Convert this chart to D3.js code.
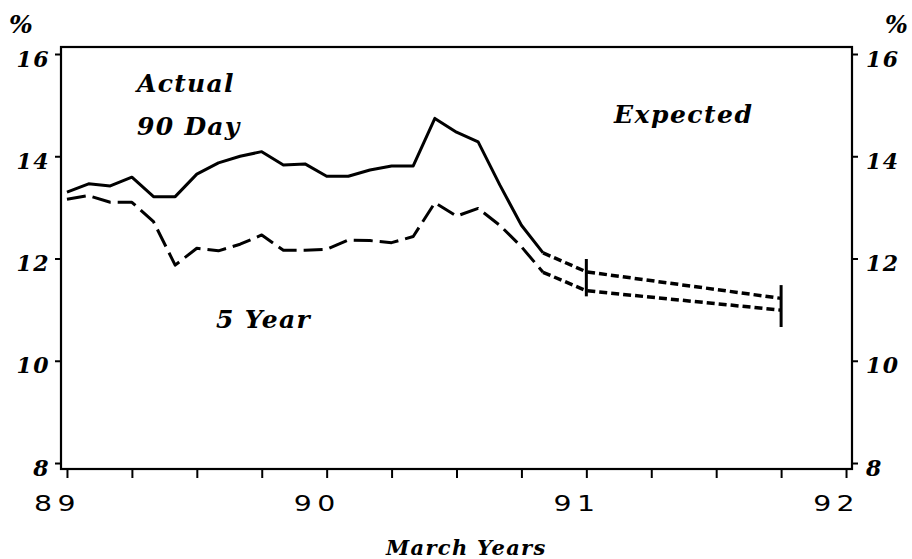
<!DOCTYPE html>
<html>
<head>
<meta charset="utf-8">
<script src="https://cdn.jsdelivr.net/npm/d3@7"></script>
<style>
  body { margin: 0; background: #fff; }
  svg { display: block; }
  .lab { font-family: "DejaVu Serif", serif; font-weight: bold; font-style: italic; fill: #000; }
  .xt { font-family: "DejaVu Sans", sans-serif; font-size: 21px; fill: #000; letter-spacing: 4px; }
</style>
</head>
<body>
<svg id="chart" width="912" height="559"></svg>
<script>
// monthly observations, March 1989 onward (year + month/12)
const actualMonths = d3.range(23).map(i => 89 + i / 12);
const actual90 = [13.30, 13.46, 13.42, 13.59, 13.21, 13.21, 13.65, 13.87, 14.00, 14.09, 13.83, 13.85,
                  13.61, 13.61, 13.73, 13.81, 13.81, 14.74, 14.47, 14.28, 13.44, 12.65, 12.11];
const actual5 = [13.16, 13.23, 13.10, 13.10, 12.72, 11.87, 12.20, 12.15, 12.28, 12.46, 12.16, 12.16,
                 12.18, 12.36, 12.35, 12.31, 12.43, 13.09, 12.83, 12.98, 12.65, 12.23, 11.73];

// expected path starts at last actual month
const expectedDates = [89 + 22 / 12, 91.0, 91.75];
const expected90 = [12.11, 11.74, 11.22];
const expected5 = [11.73, 11.37, 10.99];

// vertical range bars on the expectations
const barDates = [91.0, 91.75];
const barLow = [11.26, 10.66];
const barHigh = [11.99, 11.48];

const yTicks = [8, 10, 12, 14, 16];
const xTickLabels = [89, 90, 91, 92];
const xTicks = d3.range(89, 92.01, 0.25);

const svg = d3.select("#chart");
const mLeft = 61, mRight = 852, mTop = 47, mBottom = 469;

const x = d3.scaleLinear().domain([88.977, 92.023]).range([mLeft, mRight]);
const y = d3.scaleLinear().domain([7.883, 16.137]).range([mBottom, mTop]);

// frame
svg.append("rect")
    .attr("x", mLeft).attr("y", mTop)
    .attr("width", mRight - mLeft).attr("height", mBottom - mTop)
    .attr("fill", "none").attr("stroke", "#000").attr("stroke-width", 2.2);

// left axis
const yl = svg.append("g").attr("transform", "translate(" + mLeft + ",0)")
    .call(d3.axisLeft(y).tickValues(yTicks).tickSize(6).tickPadding(8).tickFormat(d3.format("d")));
// right axis
const yr = svg.append("g").attr("transform", "translate(" + mRight + ",0)")
    .call(d3.axisRight(y).tickValues(yTicks).tickSize(6).tickPadding(8).tickFormat(d3.format("d")));
[yl, yr].forEach(g => {
    g.select(".domain").remove();
    g.selectAll(".tick line").attr("stroke", "#000").attr("stroke-width", 2);
    g.selectAll(".tick text")
        .attr("class", "lab")
        .attr("dy", "0.55em")
        .style("font-size", "22px")
        .style("letter-spacing", "1.5px");
});
yl.selectAll(".tick text").attr("dx", 3);

// bottom axis
const xa = svg.append("g").attr("transform", "translate(0," + mBottom + ")")
    .call(d3.axisBottom(x).tickValues(xTicks).tickSize(9).tickFormat(""));
xa.select(".domain").remove();
xa.selectAll(".tick line").attr("stroke", "#000").attr("stroke-width", 2);

// wide upright year labels, right edge a little past the tick
svg.append("g").selectAll("text")
    .data(xTickLabels)
    .enter().append("text")
    .attr("class", "xt")
    .attr("transform", d => "translate(" + (x(d) + 14) + ",511) scale(1.35,1)")
    .attr("text-anchor", "end")
    .text(d => d);

// lines
const line = d3.line().x(d => x(d[0])).y(d => y(d[1]));

svg.append("path")
    .datum(d3.zip(actualMonths, actual90))
    .attr("d", line)
    .attr("fill", "none").attr("stroke", "#000").attr("stroke-width", 3)
    .attr("stroke-linejoin", "round");

svg.append("path")
    .datum(d3.zip(actualMonths, actual5))
    .attr("d", line)
    .attr("fill", "none").attr("stroke", "#000").attr("stroke-width", 3)
    .attr("stroke-dasharray", "19,7")
    .attr("stroke-linejoin", "round");

[expected90, expected5].forEach(vals => {
    svg.append("path")
        .datum(d3.zip(expectedDates, vals))
        .attr("d", line)
        .attr("fill", "none").attr("stroke", "#000").attr("stroke-width", 3.5)
        .attr("stroke-dasharray", "8,4");
});

svg.append("g").selectAll("line")
    .data(d3.zip(barDates, barLow, barHigh))
    .enter().append("line")
    .attr("x1", d => x(d[0])).attr("x2", d => x(d[0]))
    .attr("y1", d => y(d[1])).attr("y2", d => y(d[2]))
    .attr("stroke", "#000").attr("stroke-width", 3);

// annotations
const note = (t, px, py, size, ls) => svg.append("text")
    .attr("class", "lab").attr("x", px).attr("y", py)
    .style("font-size", size + "px").style("letter-spacing", ls + "px").text(t);

note("Actual", 137, 92, 25, 1.3);
note("90 Day", 137, 135, 25, 1.3);
note("Expected", 614, 123, 25, 1.5);
note("5 Year", 216, 328, 25, 1.3);
note("%", 9, 33, 25, 0);
note("%", 885, 33, 24, 0);
note("March Years", 386, 555, 21, 1.3);
</script>
</body>
</html>
